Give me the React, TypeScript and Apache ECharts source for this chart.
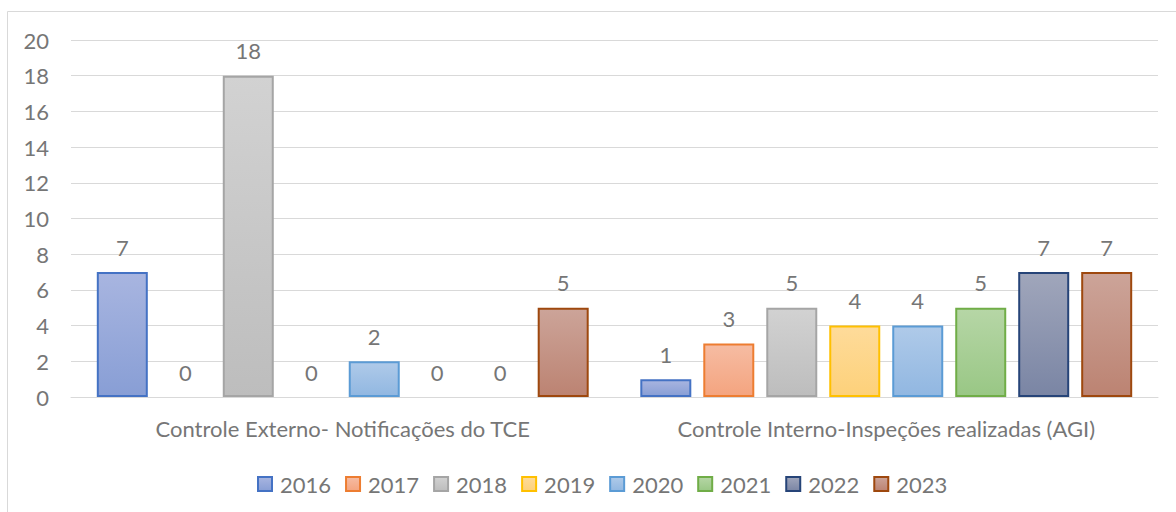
import React, { useEffect, useRef } from "react";
import * as echarts from "echarts";

const categories = [
  "Controle Externo- Notificações do TCE",
  "Controle Interno-Inspeções realizadas (AGI)",
];
const years = ["2016", "2017", "2018", "2019", "2020", "2021", "2022", "2023"];
const values2016 = [7, 1];
const values2017 = [0, 3];
const values2018 = [18, 5];
const values2019 = [0, 4];
const values2020 = [2, 4];
const values2021 = [0, 5];
const values2022 = [0, 7];
const values2023 = [5, 7];
const seriesValues = [
  values2016, values2017, values2018, values2019,
  values2020, values2021, values2022, values2023,
];
const yTicks = [0, 2, 4, 6, 8, 10, 12, 14, 16, 18, 20];

const borderColors = ["#4472C4", "#ED7D31", "#A5A5A5", "#FFC000", "#5B9BD5", "#70AD47", "#264478", "#9E480E"];
const topColors = ["#a8b5e0", "#f6bca3", "#d2d2d2", "#fedb9a", "#afcae9", "#b6d6a6", "#a0a6bb", "#cca499"];
const bottomColors = ["#889ed5", "#f4a47f", "#bdbdbd", "#fdd17a", "#91b7e1", "#99c785", "#7a85a4", "#bc8372"];

const FONT = "Lato";
const TEXT_COLOR = "#767676";

export default function App() {
  const ref = useRef<HTMLDivElement>(null);
  useEffect(() => {
    if (!ref.current) return;
    const chart = echarts.init(ref.current, null, { renderer: "svg" });
    const series = years.map((y, i) => ({
      name: y,
      type: "bar",
      data: seriesValues[i].map((v) =>
        v === 0 ? { value: v, itemStyle: { borderWidth: 0 } } : v
      ),
      barWidth: 51,
      barGap: "23.5%",
      itemStyle: {
        color: new echarts.graphic.LinearGradient(0, 0, 0, 1, [
          { offset: 0, color: topColors[i] },
          { offset: 1, color: bottomColors[i] },
        ]),
        borderColor: borderColors[i],
        borderWidth: 2,
      },
      label: {
        show: true,
        position: "top",
        distance: 14,
        color: TEXT_COLOR,
        fontFamily: FONT,
        fontSize: 22,
      },
    }));
    chart.setOption({
      animation: false,
      backgroundColor: "#ffffff",
      textStyle: { fontFamily: FONT },
      graphic: [
        {
          type: "rect",
          shape: { x: 7.5, y: 11.5, width: 1200, height: 600 },
          style: { fill: "none", stroke: "#d9d9d9", lineWidth: 1 },
          silent: true,
        },
      ],
      grid: { left: 71, right: 18, top: 40, bottom: 115, containLabel: false },
      legend: {
        left: 257,
        top: 473,
        padding: 0,
        itemWidth: 14,
        itemHeight: 14,
        itemGap: 14,
        icon: "rect",
        textStyle: {
          color: TEXT_COLOR,
          fontFamily: FONT,
          fontSize: 22,
          padding: [0, 0, 0, 3],
        },
        data: years,
      },
      xAxis: {
        type: "category",
        data: categories,
        axisLine: { show: true, lineStyle: { color: "#d9d9d9", width: 1 } },
        axisTick: { show: false },
        axisLabel: {
          color: TEXT_COLOR,
          fontFamily: FONT,
          fontSize: 22,
          margin: 20,
        },
      },
      yAxis: {
        type: "value",
        min: yTicks[0],
        max: yTicks[yTicks.length - 1],
        interval: 2,
        axisLine: { show: false },
        axisTick: { show: false },
        splitLine: { lineStyle: { color: "#d9d9d9", width: 1 } },
        axisLabel: {
          color: TEXT_COLOR,
          fontFamily: FONT,
          fontSize: 22,
          margin: 22,
        },
      },
      series,
    });
    return () => chart.dispose();
  }, []);
  return (
    <div
      ref={ref}
      style={{ position: "fixed", left: 0, top: 0, width: 1176, height: 512 }}
    />
  );
}
